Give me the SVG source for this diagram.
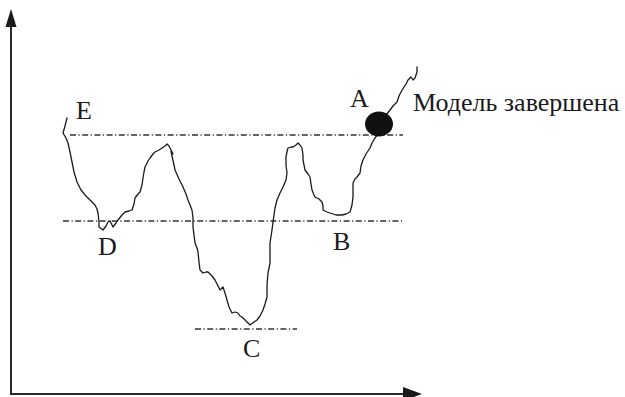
<svg xmlns="http://www.w3.org/2000/svg" width="625" height="397" viewBox="0 0 625 397">
<style>
.axis{stroke:#2a2a2a;stroke-width:2;fill:none}
.head{fill:#1a1a1a}
.guide{stroke:#333;stroke-width:1.3;fill:none;stroke-dasharray:6 2.5 1.2 2.5}
.curve{stroke:#1a1a1a;stroke-width:1.3;fill:none;stroke-linejoin:round;stroke-linecap:round}
.lbl{font-family:"Liberation Serif","Times New Roman",serif;font-size:26px;fill:#1a1a1a}
</style>
<rect width="625" height="397" fill="#fff"/>
<g id="axes">
<path class="axis" d="M11,27 V394 H404"/>
<polygon class="head" points="11,9 5.5,27 16.5,27"/>
<polygon class="head" points="422,394 403,387 403,401"/>
</g>
<g id="guides">
<line class="guide" x1="70" y1="135" x2="403" y2="135"/>
<line class="guide" x1="63" y1="221" x2="403" y2="221"/>
<line class="guide" x1="195" y1="329" x2="297" y2="329"/>
</g>
<g id="curve">
<polyline class="curve" points="67,118 65,126 63,133 66,138 68,143 70,152 72,162 74,172 77,182 81,190 85,195 90,200 95,205 97,209 98,213 99,222 99,227 103,230 106,226 108,222 110,221 112,225 113,227 116,223 118,220 122,215 125,212 129,211 132,210 134,204 135,198 138,194 140,192 142,185 143,178 144,172 145,167 148,161 150,158 153,154 155,152 159,150 162,148 165,146 167,144 169,146 171,150 173,154 171,151 172,156 174,165 175,170 179,179 183,187 186,194 188,200 190,205 192,210 193,218 193,227 194,235 195,243 197,248 198,252 199,262 200,270 203,273 206,272 208,272 212,276 215,280 218,286 220,290 223,287 225,293 227,300 229,307 232,313 235,312 238,313 240,316 242,317 246,321 250,325 254,322 257,320 260,316 263,310 265,304 267,297 267,285 268,273 269,268 270,263 270,253 270,243 272,230 273,222 274,215 275,208 277,200 280,193 283,187 286,180 287,173 286,165 286,157 287,152 288,148 291,147 293,147 296,145 298,143 300,145 302,148 303,155 303,160 304,165 305,170 308,174 310,177 311,184 312,190 314,195 315,197 319,199 322,202 323,206 323,210 327,212 330,213 336,215 342,215 346,214 350,212 352,205 353,197 353,190 353,183 355,179 357,177 360,173 361,166 363,160 366,154 370,148 372,143 375,138 378,134"/>
<polyline class="curve" points="386,115 390,110 393,106 397,102 399,96 401,92 404,87 406,84 408,80 411,77 413,80 415,78 416,75 417,72 417,67"/>
</g>
<g id="nodeA">
<ellipse cx="379" cy="124" rx="14" ry="12.5" fill="#111"/>
</g>
<g id="labels">
<text class="lbl" x="76" y="119">E</text>
<text class="lbl" x="98" y="255">D</text>
<text class="lbl" x="243" y="357">C</text>
<text class="lbl" x="333" y="250">B</text>
<text class="lbl" x="350" y="107">A</text>
<text class="lbl" x="413" y="111">Модель завершена</text>
</g>
</svg>
